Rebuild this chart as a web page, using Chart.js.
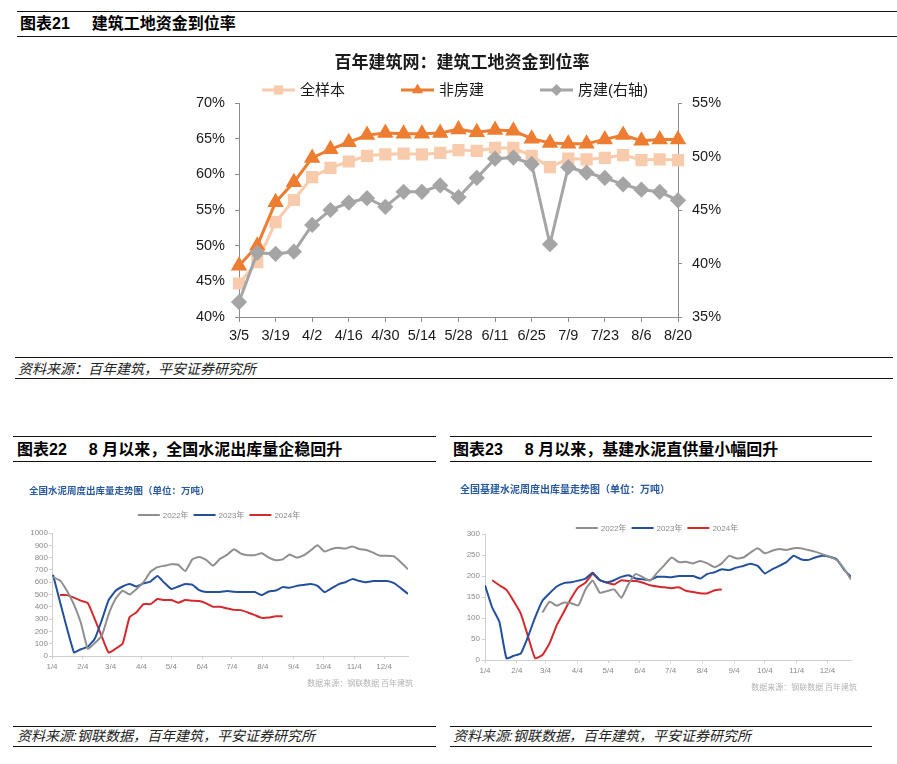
<!DOCTYPE html>
<html>
<head>
<meta charset="utf-8">
<script src="https://cdn.jsdelivr.net/npm/chart.js@4.4.1/dist/chart.umd.min.js"></script>
<style>
  body { margin: 0; width: 897px; height: 764px; background: #fff; position: relative; overflow: hidden;
         font-family: "Liberation Sans", "Noto Sans CJK SC", sans-serif; color: #000; }
  .rule { position: absolute; height: 0; border-top: 1.6px solid #111; }
  .hd { position: absolute; font-weight: bold; font-size: 16px; line-height: 20px; white-space: nowrap; }
  .hd span { margin-left: 22px; }
  .src { position: absolute; font-style: italic; font-size: 14px; line-height: 18px; color: #222; white-space: nowrap; }
  canvas { position: absolute; }
</style>
</head>
<body>
<div class="rule" style="left:17px;top:11px;width:880px"></div>
<div class="hd" style="left:20px;top:14px">图表21<span>建筑工地资金到位率</span></div>
<div class="rule" style="left:17px;top:36px;width:880px"></div>
<canvas id="c1" width="550" height="310" style="left:180px;top:44px"></canvas>
<div class="rule" style="left:15px;top:357px;width:878px"></div>
<div class="src" style="left:18px;top:360px">资料来源：百年建筑，平安证券研究所</div>
<div class="rule" style="left:15px;top:378px;width:878px"></div>

<div class="rule" style="left:13px;top:436px;width:423px"></div>
<div class="hd" style="left:17px;top:440px">图表22<span>8 月以来，全国水泥出库量企稳回升</span></div>
<div class="rule" style="left:13px;top:461px;width:423px"></div>
<canvas id="c2" width="423" height="250" style="left:13px;top:470px"></canvas>
<div class="rule" style="left:13px;top:726px;width:423px"></div>
<div class="src" style="left:17px;top:727px">资料来源:钢联数据，百年建筑，平安证券研究所</div>
<div class="rule" style="left:13px;top:746px;width:423px"></div>

<div class="rule" style="left:450px;top:436px;width:422px"></div>
<div class="hd" style="left:453px;top:440px">图表23<span>8 月以来，基建水泥直供量小幅回升</span></div>
<div class="rule" style="left:450px;top:461px;width:422px"></div>
<canvas id="c3" width="422" height="250" style="left:450px;top:470px"></canvas>
<div class="rule" style="left:450px;top:726px;width:422px"></div>
<div class="src" style="left:453px;top:727px">资料来源:钢联数据，百年建筑，平安证券研究所</div>
<div class="rule" style="left:450px;top:746px;width:422px"></div>

<script>
// ---- 图表21 data (weekly, %)
const weeks = ['3/5', '3/12', '3/19', '3/26', '4/2', '4/9', '4/16', '4/23', '4/30', '5/7', '5/14', '5/21', '5/28',
  '6/4', '6/11', '6/18', '6/25', '7/2', '7/9', '7/16', '7/23', '7/30', '8/6', '8/13', '8/20'];
const allSample = [44.7, 47.7, 53.3, 56.4, 59.6, 60.9, 61.8, 62.6, 62.8, 62.9, 62.8, 63.0, 63.4,
  63.3, 63.7, 63.7, 62.6, 61.0, 62.2, 62.1, 62.3, 62.7, 62.0, 62.1, 62.0];
const nonHousing = [47.2, 50.0, 56.1, 58.9, 62.3, 63.5, 64.5, 65.5, 65.8, 65.7, 65.7, 65.8, 66.3,
  65.9, 66.2, 66.1, 65.0, 64.4, 64.3, 64.3, 64.9, 65.5, 64.7, 64.9, 64.9];
const housing = [36.4, 41.0, 40.9, 41.1, 43.6, 45.0, 45.7, 46.1, 45.3, 46.7, 46.7, 47.3, 46.2,
  48.0, 49.8, 49.9, 49.3, 41.8, 49.0, 48.5, 48.0, 47.4, 46.9, 46.7, 45.9];

// ---- 图表22 / 图表23: x axis in days after 1/4, weekly series
const monthDays = [0, 31, 59, 90, 120, 151, 181, 212, 243, 273, 304, 334];
const monthLabels = ['1/4', '2/4', '3/4', '4/4', '5/4', '6/4', '7/4', '8/4', '9/4', '10/4', '11/4', '12/4'];

// 全国水泥周度出库量 (万吨), first week at day 1
const cement2022 = [640, 615, 530, 420, 270, 60, 105, 165, 340, 465, 530, 500, 545, 600, 685, 722, 733, 745, 742, 690,
  785, 805, 782, 735, 790, 822, 868, 832, 820, 820, 835, 800, 778, 785, 825, 800, 818, 858, 900, 850,
  870, 880, 873, 890, 870, 862, 840, 815, 815, 810, 760, 705];
const cement2023 = [660, null, null, 30, 55, 75, 140, 290, 455, 530, 565, 585, 565, 590, 605, 650, 595, 545, 565, 585,
  580, 535, 520, 520, 520, 528, 522, 520, 520, 520, 495, 525, 532, 560, 555, 570, 578, 585, 570, 520,
  550, 583, 600, 625, 610, 600, 610, 610, 610, 592, 550, 505];
const cement2024 = [null, 495, 495, 475, 450, 430, 300, 160, 27, 60, 100, 315, 355, 422, 422, 463, 455, 455, 433, 455,
  450, 447, 428, 400, 400, 387, 375, 373, 354, 332, 310, 313, 324, 322];

// 全国基建水泥周度出库量 (万吨), first week at day 0
const infra2022 = [null, null, null, null, null, null, null, null, 113, 139, 129, 137, 135, 130, 168, 189, 160, 164, 168, 148,
  181, 205, 197, 189, 208, 226, 244, 233, 234, 230, 236, 230, 221, 230, 248, 242, 244, 256, 266, 254,
  260, 264, 262, 266, 266, 262, 258, 252, 246, 238, 218, 192];
const infra2023 = [178, 125, 91, 4, 10, 16, 56, 102, 141, 159, 175, 183, 185, 189, 194, 208, 190, 185, 190, 198,
  202, 194, 192, 190, 198, 198, 197, 200, 200, 200, 194, 205, 209, 216, 214, 220, 224, 229, 224, 206,
  216, 224, 233, 248, 240, 238, 244, 248, 246, 240, 216, 198];
const infra2024 = [null, 190, 178, 167, 140, 110, 56, 4, 12, 40, 83, 115, 147, 173, 184, 205, 190, 184, 180, 190,
  188, 188, 184, 178, 175, 173, 171, 173, 165, 162, 159, 159, 166, 168];

const FONT = '"Liberation Sans", "Noto Sans CJK SC", sans-serif';
const CJK = '"Noto Sans CJK SC", sans-serif';

function drawMarker(ctx, style, x, y, r, color) {
  ctx.fillStyle = color;
  ctx.beginPath();
  if (style === 'rect') {
    const s = Math.SQRT1_2 * r;
    ctx.rect(x - s, y - s, 2 * s, 2 * s);
  } else if (style === 'triangle') {
    ctx.moveTo(x, y - r);
    ctx.lineTo(x + Math.sin(2 * Math.PI / 3) * r, y + 0.5 * r);
    ctx.lineTo(x - Math.sin(2 * Math.PI / 3) * r, y + 0.5 * r);
    ctx.closePath();
  } else if (style === 'rectRot') {
    ctx.moveTo(x, y - r); ctx.lineTo(x + r, y); ctx.lineTo(x, y + r); ctx.lineTo(x - r, y); ctx.closePath();
  }
  ctx.fill();
}

// titles, line legend and notes drawn on the canvas
const decor = {
  id: 'decor',
  afterDraw(chart, args, o) {
    const ctx = chart.ctx;
    ctx.save();
    ctx.textBaseline = 'middle';
    (o.texts || []).forEach(t => {
      ctx.font = t.font; ctx.fillStyle = t.color; ctx.textAlign = t.align;
      ctx.fillText(t.text, t.x, t.y);
    });
    const L = o.legend;
    if (L) {
      ctx.font = L.font; ctx.textAlign = 'left';
      const items = chart.data.datasets.map(ds => ({ ds, w: L.swatch + L.gap + ctx.measureText(ds.label).width }));
      const total = items.reduce((s, it) => s + it.w, 0) + L.spacing * (items.length - 1);
      let x = L.cx - total / 2;
      items.forEach(({ ds, w }) => {
        ctx.strokeStyle = ds.borderColor; ctx.lineWidth = ds.borderWidth;
        ctx.beginPath(); ctx.moveTo(x, L.y); ctx.lineTo(x + L.swatch, L.y); ctx.stroke();
        if (L.markers) drawMarker(ctx, ds.pointStyle, x + L.swatch / 2, L.y, ds.pointRadius, ds.borderColor);
        ctx.fillStyle = L.color;
        ctx.fillText(ds.label, x + L.swatch + L.gap, L.y + 1);
        x += w + L.spacing;
      });
    }
    ctx.restore();
  }
};

// ---------- 图表21
const axisGray = '#8c8c8c';
new Chart(document.getElementById('c1'), {
  type: 'line',
  data: {
    labels: weeks,
    datasets: [
      { label: '全样本', data: allSample, yAxisID: 'y', borderColor: '#f8cbad', backgroundColor: '#f8cbad',
        borderWidth: 3, pointStyle: 'rect', pointRadius: 6.5, order: 2, clip: false },
      { label: '非房建', data: nonHousing, yAxisID: 'y', borderColor: '#ed7d31', backgroundColor: '#ed7d31',
        borderWidth: 3, pointStyle: 'triangle', pointRadius: 6.5, order: 1, clip: false },
      { label: '房建(右轴)', data: housing, yAxisID: 'y1', borderColor: '#a5a5a5', backgroundColor: '#a5a5a5',
        borderWidth: 3, pointStyle: 'rectRot', pointRadius: 6, order: 0, clip: false }
    ]
  },
  options: {
    responsive: false,
    animation: false,
    layout: { padding: { top: 59, left: 0, right: 0, bottom: 0 } },
    elements: { point: { borderWidth: 0 }, line: { tension: 0 } },
    plugins: {
      legend: { display: false },
      tooltip: { enabled: false },
      decor: {
        texts: [{ text: '百年建筑网：建筑工地资金到位率', x: 282, y: 19, font: 'bold 17px ' + FONT, color: '#1a1a1a', align: 'center' }],
        legend: { cx: 275, y: 46, swatch: 33, gap: 5, spacing: 56, font: '15px ' + FONT, color: '#1a1a1a', markers: true }
      }
    },
    scales: {
      x: {
        offset: false,
        grid: { drawOnChartArea: false, tickLength: 5, color: axisGray },
        border: { color: axisGray },
        ticks: {
          autoSkip: false, maxRotation: 0, padding: 5, color: '#1a1a1a', font: { family: FONT, size: 14.5 },
          callback(v, i) { return i % 2 === 0 ? this.getLabelForValue(v) : null; }
        },
        afterFit(s) { s.height = 37; }
      },
      y: {
        position: 'left', min: 40, max: 70,
        grid: { drawOnChartArea: false, tickLength: 4, color: axisGray },
        border: { color: axisGray },
        ticks: { stepSize: 5, padding: 10, color: '#1a1a1a', font: { family: FONT, size: 14.5 }, callback: v => v + '%' },
        afterFit(s) { s.width = 59; }
      },
      y1: {
        position: 'right', min: 35, max: 55,
        grid: { drawOnChartArea: false, tickLength: 4, color: axisGray },
        border: { color: axisGray },
        ticks: { stepSize: 5, padding: 10, color: '#1a1a1a', font: { family: FONT, size: 14.5 }, callback: v => v + '%' },
        afterFit(s) { s.width = 52; }
      }
    }
  },
  plugins: [decor]
});

// ---------- 图表22 / 图表23
const yearColors = { '2022年': '#8f8f8f', '2023年': '#23509c', '2024年': '#d42a2e' };
const toPoints = (vals, start) => vals.map((v, i) => ({ x: start + 7 * i, y: v }));
const lightAxis = '#cfcfcf';

function cementChart(id, series, opt) {
  return new Chart(document.getElementById(id), {
    type: 'line',
    data: {
      datasets: series.map(s => ({
        label: s.label, data: toPoints(s.values, s.start), borderColor: yearColors[s.label],
        backgroundColor: yearColors[s.label], borderWidth: 2, pointRadius: 0, tension: 0.15, spanGaps: true
      }))
    },
    options: {
      responsive: false,
      animation: false,
      layout: { padding: { top: opt.top, right: opt.right, left: 0, bottom: 0 } },
      plugins: {
        legend: { display: false },
        tooltip: { enabled: false },
        decor: {
          texts: [
            { text: opt.title, x: opt.titleX, y: opt.titleY, font: 'bold ' + opt.titleSize + 'px ' + CJK, color: '#2a5a9e', align: 'left' },
            { text: '数据来源：钢联数据 百年建筑', x: opt.noteX, y: opt.noteY, font: '8px ' + CJK, color: '#b3b3b3', align: 'right' }
          ],
          legend: { cx: opt.legendX, y: opt.legendY, swatch: 22, gap: 3, spacing: 5, font: '8px ' + FONT, color: '#8a8a8a', markers: false }
        }
      },
      scales: {
        x: {
          type: 'linear', min: 0, max: opt.xMax,
          grid: { drawOnChartArea: false, tickLength: 3, color: lightAxis },
          border: { color: lightAxis },
          afterBuildTicks(s) { s.ticks = monthDays.map(v => ({ value: v })); },
          ticks: { autoSkip: false, maxRotation: 0, padding: 3, color: '#8a8a8a', font: { family: FONT, size: 8 },
            callback: v => monthLabels[monthDays.indexOf(v)] },
          afterFit(s) { s.height = opt.xHeight; }
        },
        y: {
          min: 0, max: opt.yMax,
          grid: { drawOnChartArea: false, tickLength: 3, color: lightAxis },
          border: { color: lightAxis },
          ticks: { stepSize: opt.yStep, autoSkip: false, padding: opt.yPad, color: '#8a8a8a',
            font: { family: FONT, size: 8 }, callback: v => String(v) },
          afterFit(s) { s.width = opt.yWidth; }
        }
      }
    },
    plugins: [decor]
  });
}

cementChart('c2', [
  { label: '2022年', values: cement2022, start: 1 },
  { label: '2023年', values: cement2023, start: 1 },
  { label: '2024年', values: cement2024, start: 1 }
], {
  title: '全国水泥周度出库量走势图（单位：万吨）', titleX: 16, titleY: 20, titleSize: 9.5,
  noteX: 400, noteY: 213, legendX: 206, legendY: 45,
  top: 63, right: 28, xHeight: 64, yWidth: 39, yPad: 1, xMax: 358, yMax: 1000, yStep: 100
});

cementChart('c3', [
  { label: '2022年', values: infra2022, start: 0 },
  { label: '2023年', values: infra2023, start: 0 },
  { label: '2024年', values: infra2024, start: 0 }
], {
  title: '全国基建水泥周度出库量走势图（单位：万吨）', titleX: 10, titleY: 19, titleSize: 10,
  noteX: 407, noteY: 217, legendX: 207, legendY: 58,
  top: 64, right: 21, xHeight: 60, yWidth: 35, yPad: 2, xMax: 357, yMax: 300, yStep: 50
});
</script>
</body>
</html>
